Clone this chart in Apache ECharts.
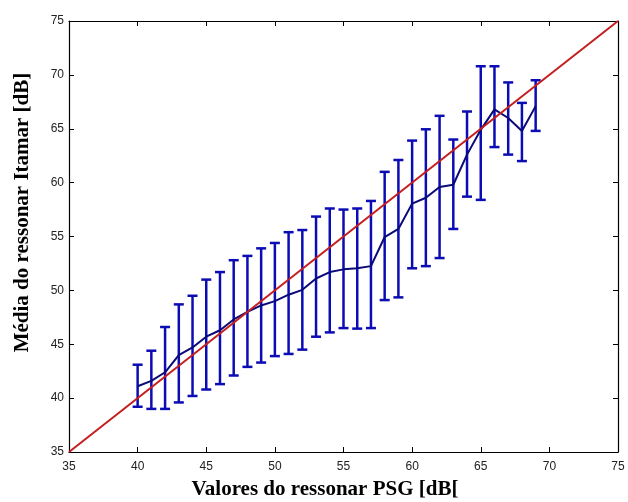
<!DOCTYPE html>
<html>
<head>
<meta charset="utf-8">
<script src="https://cdn.jsdelivr.net/npm/echarts@6/dist/echarts.min.js"></script>
<style>
  html, body { margin: 0; padding: 0; background: #fff; }
  #chart { width: 628px; height: 502px; }
</style>
</head>
<body>
<div id="chart"></div>
<script>
// valores PSG (eixo x)
var psg = [40, 41, 42, 43, 44, 45, 46, 47, 48, 49, 50, 51, 52, 53, 54,
           55, 56, 57, 58, 59, 60, 61, 62, 63, 64, 65, 66, 67, 68, 69];
// média Itamar
var media = [41.1, 41.6, 42.4, 44.0, 44.7, 45.7, 46.3, 47.3, 48.0, 48.6,
             49.0, 49.6, 50.05, 51.1, 51.7, 51.95, 52.05, 52.25, 54.95, 55.7,
             58.05, 58.6, 59.6, 59.8, 62.6, 64.9, 66.8, 66.0, 64.8, 67.1];
// limite superior da barra de erro
var superior = [43.1, 44.4, 46.6, 48.7, 49.5, 51.0, 51.7, 52.8, 53.2, 53.9,
                54.4, 55.4, 55.6, 56.85, 57.6, 57.5, 57.6, 58.3, 61.0, 62.1,
                63.9, 64.95, 66.2, 64.0, 66.6, 70.8, 70.8, 69.3, 67.4, 69.5];
// limite inferior da barra de erro
var inferior = [39.2, 39.0, 39.0, 39.6, 40.2, 40.8, 41.3, 42.1, 42.9, 43.3,
                43.9, 44.1, 44.5, 45.7, 46.1, 46.5, 46.45, 46.5, 49.1, 49.35,
                52.05, 52.25, 53.0, 55.7, 58.7, 58.4, 63.3, 62.6, 62.0, 64.8];
// linha de referência y = x
var referencia = [35, 75];

var chart = echarts.init(document.getElementById('chart'));

var linhaMedia = [];
var barras = [];
for (var i = 0; i < psg.length; i++) {
  linhaMedia.push([psg[i], media[i]]);
  barras.push([psg[i], inferior[i], superior[i]]);
}
var linhaRef = referencia.map(function (v) { return [v, v]; });

var corBarra = '#0c0cb4';

function desenhaBarra(params, api) {
  var x = api.value(0);
  var lo = api.coord([x, api.value(1)]);
  var hi = api.coord([x, api.value(2)]);
  var hw = 5;
  var style = { stroke: corBarra, lineWidth: 2.5 };
  return {
    type: 'group',
    children: [
      { type: 'line', shape: { x1: lo[0], y1: lo[1], x2: hi[0], y2: hi[1] }, style: style },
      { type: 'line', shape: { x1: hi[0] - hw, y1: hi[1], x2: hi[0] + hw, y2: hi[1] }, style: style },
      { type: 'line', shape: { x1: lo[0] - hw, y1: lo[1], x2: lo[0] + hw, y2: lo[1] }, style: style }
    ]
  };
}

var eixoBase = {
  type: 'value',
  min: 35,
  max: 75,
  interval: 5,
  splitLine: { show: false },
  axisLine: { show: true, onZero: false, lineStyle: { color: '#000', width: 1.2 } },
  axisTick: { show: true, inside: true, length: 5, lineStyle: { color: '#000' } }
};

var option = {
  backgroundColor: '#fff',
  animation: false,
  grid: { left: 69, right: 10, top: 21, bottom: 50, outerBoundsMode: 'none' },
  xAxis: [
    Object.assign({}, eixoBase, {
      position: 'bottom',
      name: 'Valores do ressonar PSG [dB[',
      nameLocation: 'middle',
      nameGap: 27,
      nameTextStyle: { fontFamily: 'Liberation Serif', fontWeight: 'bold', fontSize: 21, color: '#000', padding: [0, 37, 0, 0] },
      axisLabel: { fontFamily: 'Liberation Sans', fontSize: 12, color: '#222', margin: 9 }
    }),
    Object.assign({}, eixoBase, { position: 'top', axisLabel: { show: false } })
  ],
  yAxis: [
    Object.assign({}, eixoBase, {
      position: 'left',
      name: 'Média do ressonar Itamar [dB]',
      nameLocation: 'middle',
      nameGap: 36,
      nameTextStyle: { fontFamily: 'Liberation Serif', fontWeight: 'bold', fontSize: 21, color: '#000', padding: [0, 0, 0, 48] },
      axisLabel: { fontFamily: 'Liberation Sans', fontSize: 12, color: '#222', margin: 5 }
    }),
    Object.assign({}, eixoBase, { position: 'right', axisLabel: { show: false } })
  ],
  series: [
    {
      type: 'custom',
      xAxisIndex: 0,
      yAxisIndex: 0,
      renderItem: desenhaBarra,
      encode: { x: 0, y: [1, 2] },
      data: barras,
      z: 2
    },
    {
      type: 'line',
      xAxisIndex: 0,
      yAxisIndex: 0,
      data: linhaMedia,
      showSymbol: false,
      lineStyle: { color: '#0a0a78', width: 2 },
      z: 3
    },
    {
      type: 'line',
      xAxisIndex: 0,
      yAxisIndex: 0,
      data: linhaRef,
      showSymbol: false,
      lineStyle: { color: '#c41e1e', width: 2 },
      z: 4
    }
  ]
};

chart.setOption(option);
</script>
</body>
</html>
